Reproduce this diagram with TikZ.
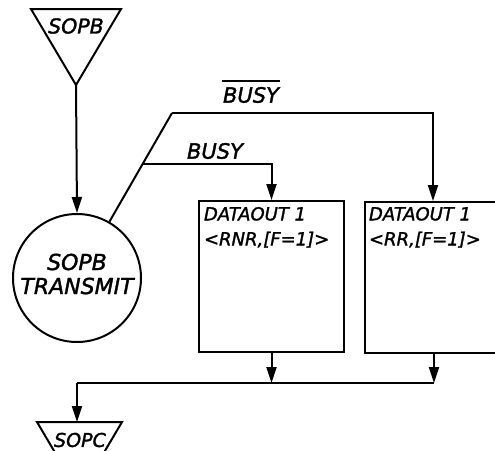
\documentclass[tikz,border=0pt]{standalone}
\usepackage{fontspec}
\setmainfont{DejaVu Sans}[ItalicFeatures={FakeBold=1.6}]
\usetikzlibrary{arrows.meta,calc}
\begin{document}
\begin{tikzpicture}[x=1pt,y=-1pt,line width=2pt,
  flow/.style={-{Triangle[length=16pt,width=10pt]}},
  txt/.style={inner sep=0pt,font=\itshape\fontsize{#1}{#1}\selectfont},
  txt/.default=21,
  proc/.style={draw,rectangle,inner sep=0pt,minimum height=151pt}]
\useasboundingbox (0,0) rectangle (495,450);
\clip (0,0) rectangle (495,450);

% entry connector SOPB
\draw (31,9) -- (121,9) -- (76,85) -- cycle;
\coordinate (sopbtip) at (76,85);
\node[txt=20.5] (sopb) at (76,26) {SOPB};

% state circle
\node[circle,draw,minimum size=128pt,inner sep=0pt] (tx) at (77,278) {};
\node[txt=22,align=center] (txlabel) at (77,274) {SOPB\\[2pt]TRANSMIT};
\draw[flow] (sopbtip) -- (tx.north);

% process boxes
\node[proc,minimum width=145pt] (box1) at (271.5,276.5) {};
\node[proc,minimum width=166pt,anchor=north west] (box2) at (364,201) {};
\node[txt=18,anchor=north west,align=left] (b1text) at (203,206)
  {DATAOUT 1\\[7pt]<RNR,[F=1]>};
\node[txt=18,anchor=north west,align=left] (b2text) at (368,206)
  {DATAOUT 1\\[7pt]<RR,[F=1]>};

% branch lines
\coordinate (dtop) at (172,113);
\coordinate (br) at ($(dtop)!0.309!(tx.center)$);
\coordinate (in2) at (433,201);
\coordinate (out2) at (434,352);
\draw (tx) -- (dtop);
\draw[flow] (dtop) -| (in2);
\draw[flow] (br) -| (box1.north);
\node[txt] (busy) at (215,151) {BUSY};
\node[txt] (nbusy) at (251,95) {BUSY};
\draw[line width=1.6pt] ([yshift=5pt]nbusy.north west) -- ([yshift=5pt]nbusy.north east);

% merge into SOPC
\coordinate (m) at (77,383);
\draw[flow] (box1.south) -- (box1.south |- m);
\draw[flow] (out2) -- (out2 |- m);
\draw (out2 |- m) -- (m);
\coordinate (sopctop) at (77,422);
\draw[flow] (m) -- (sopctop);
\draw (37,422) -- (122,422) -- (79.5,494) -- cycle;
\node[txt=19] (sopc) at (80,440) {SOPC};
\end{tikzpicture}
\end{document}
